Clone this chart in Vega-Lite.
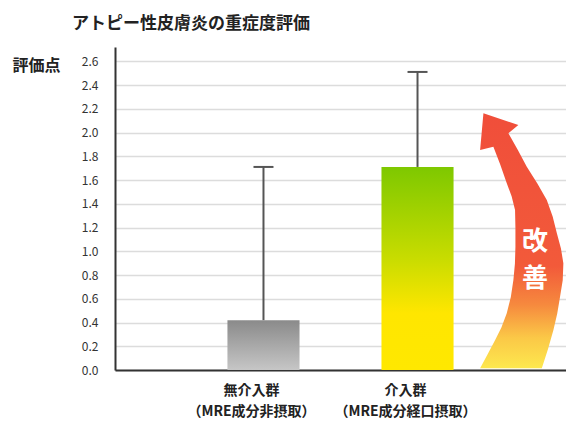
{
  "$schema": "https://vega.github.io/schema/vega-lite/v6.json",
  "width": 451,
  "height": 323,
  "autosize": {"type": "none"},
  "padding": {"left": 115, "top": 47, "right": 0, "bottom": 52},
  "background": "white",
  "config": {
    "view": {"stroke": null},
    "font": "Noto Sans CJK JP",
    "axisY": {
      "titleAngle": 0,
      "titleAlign": "left",
      "titleBaseline": "middle",
      "titleX": -103,
      "titleY": 18,
      "titleFontSize": 16,
      "titleFontWeight": "bold",
      "titleColor": "#222222",
      "tickCount": 13,
      "format": ".1f",
      "labelFontSize": 12,
      "labelColor": "#333333",
      "labelPadding": 17,
      "labelOverlap": false,
      "ticks": false,
      "tickSize": 0,
      "domainColor": "#333333",
      "domainWidth": 2,
      "grid": true,
      "gridColor": "#dcdcdc",
      "gridWidth": 1.5
    }
  },
  "title": {
    "text": "アトピー性皮膚炎の重症度評価",
    "anchor": "start",
    "frame": "group",
    "dx": -43,
    "offset": 14,
    "fontSize": 17,
    "fontWeight": "bold",
    "color": "#222222"
  },
  "datasets": {
    "groups": [
      {"group": "無介入群\n（MRE成分非摂取）", "mean": 0.42, "upper": 1.71, "kind": "control"},
      {"group": "介入群\n（MRE成分経口摂取）", "mean": 1.71, "upper": 2.51, "kind": "intervention"}
    ],
    "note": [{"label": "改善"}]
  },
  "layer": [
    {
      "data": {"name": "groups"},
      "encoding": {
        "x": {
          "field": "group",
          "type": "nominal",
          "sort": null,
          "scale": {"domain": ["無介入群\n（MRE成分非摂取）", "介入群\n（MRE成分経口摂取）"], "paddingInner": 0.532, "paddingOuter": 0.73},
          "axis": {
            "title": null,
            "labelExpr": "split(datum.label, '\\n')",
            "labelAngle": 0,
            "labelFontSize": 14,
            "labelFontWeight": "bold",
            "labelColor": "#222222",
            "labelLineHeight": 21,
            "labelPadding": 13,
            "labelOffset": -12,
            "ticks": false,
            "tickSize": 0,
            "domainColor": "#333333",
            "domainWidth": 2,
            "grid": false
          }
        },
        "y": {
          "field": "mean",
          "type": "quantitative",
          "scale": {"domain": [0, 2.72], "nice": false},
          "axis": {"title": "評価点"}
        }
      },
      "layer": [
        {
          "transform": [{"filter": "datum.kind == 'control'"}],
          "mark": {
            "type": "bar",
            "color": {"gradient": "linear", "x1": 0, "y1": 0, "x2": 0, "y2": 1,
              "stops": [{"offset": 0, "color": "#8a8a8a"}, {"offset": 1, "color": "#c6c6c6"}]}
          }
        },
        {
          "transform": [{"filter": "datum.kind == 'intervention'"}],
          "mark": {
            "type": "bar",
            "color": {"gradient": "linear", "x1": 0, "y1": 0, "x2": 0, "y2": 1,
              "stops": [{"offset": 0, "color": "#7ec800"}, {"offset": 0.45, "color": "#c8dc00"}, {"offset": 0.72, "color": "#ffe600"}, {"offset": 1, "color": "#ffe800"}]}
          }
        },
        {
          "mark": {"type": "rule", "color": "#555555", "strokeWidth": 2},
          "encoding": {"y": {"field": "mean", "type": "quantitative"}, "y2": {"field": "upper"}}
        },
        {
          "mark": {"type": "tick", "color": "#555555", "thickness": 2, "size": 20, "opacity": 1},
          "encoding": {"y": {"field": "upper", "type": "quantitative"}}
        }
      ]
    },
    {
      "data": {"name": "note"},
      "layer": [
        {
          "mark": {
            "type": "point",
            "filled": true,
            "opacity": 1,
            "size": 65025,
            "strokeWidth": 0,
            "shape": "M-0.301,-1.000 L-0.027,-0.908 L-0.105,-0.843 L-0.030,-0.710 L0.039,-0.581 L0.122,-0.450 L0.196,-0.320 L0.242,-0.190 L0.275,-0.059 L0.307,0.060 L0.326,0.176 L0.321,0.310 L0.300,0.438 L0.278,0.570 L0.248,0.700 L0.205,0.850 L0.157,1.000 L-0.327,1.000 L-0.268,0.890 L-0.209,0.778 L-0.160,0.680 L-0.118,0.569 L-0.086,0.440 L-0.066,0.307 L-0.054,0.180 L-0.050,0.046 L-0.050,-0.100 L-0.053,-0.242 L-0.080,-0.350 L-0.118,-0.451 L-0.170,-0.600 L-0.223,-0.738 L-0.327,-0.712 Z",
            "color": {"gradient": "linear", "x1": 0, "y1": 0, "x2": 0, "y2": 1,
              "stops": [{"offset": 0, "color": "#f04e3a"}, {"offset": 0.6, "color": "#f25a3a"}, {"offset": 0.75, "color": "#f6893e"}, {"offset": 0.88, "color": "#fbc847"}, {"offset": 1, "color": "#fde84e"}]}
          },
          "encoding": {
            "x": {"datum": 0.902, "type": "quantitative", "scale": {"domain": [0, 1]}, "axis": null},
            "y": {"datum": 1.088, "type": "quantitative", "axis": {"title": "評価点"}}
          }
        },
        {
          "mark": {"type": "text", "text": "改", "fontSize": 26, "fontWeight": "bold", "color": "white", "align": "center", "baseline": "middle"},
          "encoding": {
            "x": {"datum": 0.931, "type": "quantitative", "scale": {"domain": [0, 1]}, "axis": null},
            "y": {"datum": 1.08, "type": "quantitative", "axis": {"title": "評価点"}}
          }
        },
        {
          "mark": {"type": "text", "text": "善", "fontSize": 26, "fontWeight": "bold", "color": "white", "align": "center", "baseline": "middle"},
          "encoding": {
            "x": {"datum": 0.931, "type": "quantitative", "scale": {"domain": [0, 1]}, "axis": null},
            "y": {"datum": 0.765, "type": "quantitative", "axis": {"title": "評価点"}}
          }
        }
      ]
    }
  ],
  "resolve": {"scale": {"x": "independent"}}
}
